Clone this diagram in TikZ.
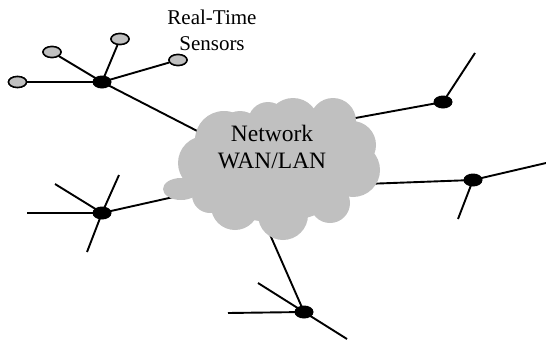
\documentclass[tikz,border=0pt]{standalone}
\usepackage{fontspec}
\setmainfont{Liberation Serif}
\usetikzlibrary{shapes.geometric}
\definecolor{cloudgray}{HTML}{C0C0C0}
\begin{document}
\begin{tikzpicture}[x=1pt,y=-1pt,
  link/.style={line width=1.9pt,black},
  hubnode/.style={shape=ellipse,fill=black,minimum width=19pt,minimum height=13pt,inner sep=0pt},
  sensornode/.style={shape=ellipse,fill=cloudgray,draw=black,line width=1.5pt,minimum width=18pt,minimum height=11pt,inner sep=0pt},
  cloudpart/.style={fill=cloudgray,draw=none}]
\useasboundingbox (0,0) rectangle (546,340);
% hubs
\coordinate (h1) at (102,82);
\coordinate (h2) at (443,102);
\coordinate (h3) at (473,180);
\coordinate (h4) at (102,213);
\coordinate (h5) at (304,312);
% cloud attachment points (hidden under cloud)
\coordinate (c1) at (205,135);
\coordinate (c2) at (350,119);
\coordinate (c3) at (365,184);
\coordinate (c4) at (178,196);
\coordinate (c5) at (268,230);
% free ends
\coordinate (e2a) at (475,53);
\coordinate (e3a) at (546,163);
\coordinate (e3b) at (458,219);
\coordinate (e4a) at (27,213);
\coordinate (e4b) at (55,184);
\coordinate (e4c) at (119,175);
\coordinate (e4d) at (87,252);
\coordinate (e5a) at (228,313);
\coordinate (e5b) at (258,283);
\coordinate (e5c) at (347,339);
% sensors
\node[sensornode] (s1) at (17.5,82) {};
\node[sensornode] (s2) at (52,52) {};
\node[sensornode] (s3) at (120,39) {};
\node[sensornode] (s4) at (178,60) {};
% links
\draw[link] (h1) -- (s1);
\draw[link] (h1) -- (s2);
\draw[link] (h1) -- (s3);
\draw[link] (h1) -- (s4);
\draw[link] (h1) -- (c1);
\draw[link] (h2) -- (c2);
\draw[link] (h2) -- (e2a);
\draw[link] (h3) -- (c3);
\draw[link] (h3) -- (e3a);
\draw[link] (h3) -- (e3b);
\draw[link] (h4) -- (c4);
\draw[link] (h4) -- (e4a);
\draw[link] (h4) -- (e4b);
\draw[link] (h4) -- (e4c);
\draw[link] (h4) -- (e4d);
\draw[link] (h5) -- (c5);
\draw[link] (h5) -- (e5a);
\draw[link] (h5) -- (e5b);
\draw[link] (h5) -- (e5c);
% redraw sensors over links
\node[sensornode] at (s1) {};
\node[sensornode] at (s2) {};
\node[sensornode] at (s3) {};
\node[sensornode] at (s4) {};
% hub nodes
\foreach \h in {h1,h2,h3,h4,h5} \node[hubnode] at (\h) {};
% cloud
\fill[cloudpart] (275,170) ellipse [x radius=80, y radius=52];
\fill[cloudpart] (224,140) circle (29);
\fill[cloudpart] (240,133) circle (22);
\fill[cloudpart] (268,122) circle (20);
\fill[cloudpart] (293,124) circle (26);
\fill[cloudpart] (333,121) circle (23);
\fill[cloudpart] (352,145) circle (24);
\fill[cloudpart] (353,170) circle (27);
\fill[cloudpart] (330,203) circle (20);
\fill[cloudpart] (283,215) circle (25);
\fill[cloudpart] (235,206) circle (24);
\fill[cloudpart] (210,195) circle (18);
\fill[cloudpart] (205,163) circle (27);
\fill[cloudpart] (181,189) ellipse [x radius=18, y radius=11];
\node[font=\fontsize{23.5}{27}\selectfont,align=center] (net) at (272,147) {Network\\WAN/LAN};
\node[font=\fontsize{21}{26}\selectfont,align=center] (lbl) at (212,30) {Real-Time\\Sensors};
\end{tikzpicture}
\end{document}
